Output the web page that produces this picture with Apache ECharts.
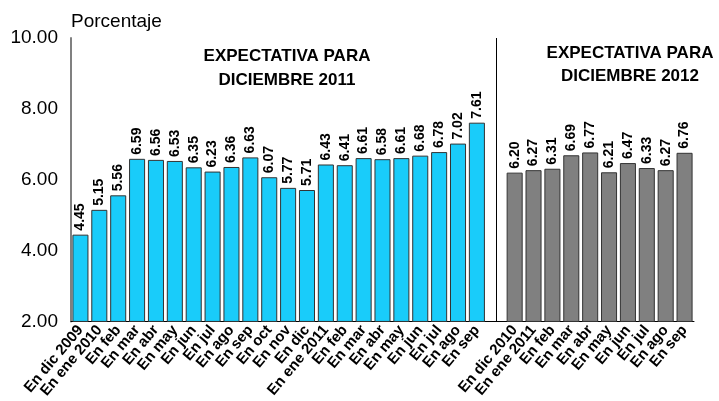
<!DOCTYPE html>
<html>
<head>
<meta charset="utf-8">
<script src="https://cdn.jsdelivr.net/npm/echarts@6/dist/echarts.min.js"></script>
<style>
html,body{margin:0;padding:0;background:#fff;}
#chart{width:719px;height:401px;}
</style>
</head>
<body>
<div id="chart"></div>
<script>
/*----------data----------*/
var cats2011=["En dic 2009","En ene 2010","En feb","En mar","En abr","En may","En jun","En jul","En ago","En sep","En oct","En nov","En dic","En ene 2011","En feb","En mar","En abr","En may","En jun","En jul","En ago","En sep"];
var vals2011=[4.45,5.15,5.56,6.59,6.56,6.53,6.35,6.23,6.36,6.63,6.07,5.77,5.71,6.43,6.41,6.61,6.58,6.61,6.68,6.78,7.02,7.61];
var cats2012=["En dic 2010","En ene 2011","En feb","En mar","En abr","En may","En jun","En jul","En ago","En sep"];
var vals2012=[6.20,6.27,6.31,6.69,6.77,6.21,6.47,6.33,6.27,6.76];
/*----------ready----------*/
$chart();
/*----------function------*/
function $chart(){
	var chart=echarts.init(document.getElementById("chart"));
	var cats=cats2011.concat([""]).concat(cats2012);	//one empty slot between groups
	var s1=[],s2=[];
	for(var i=0;i<cats.length;i++){
		s1.push(i<vals2011.length?vals2011[i]:"-");
		s2.push(i>vals2011.length?vals2012[i-vals2011.length-1]:"-");
	}
	var label={
		show:true,
		position:"top",
		rotate:90,
		align:"left",
		verticalAlign:"middle",
		distance:4,
		fontFamily:"Liberation Sans",
		fontWeight:"bold",
		fontSize:14,
		color:"#000",
		formatter:function(p){return p.value.toFixed(2);}
	};
	var titleFont="bold 17px 'Liberation Sans'";
	var option={
		animation:false,
		grid:{left:71,right:25,top:38,bottom:77},
		graphic:[
			{type:"text",x:287,y:44,style:{text:"EXPECTATIVA PARA\nDICIEMBRE 2011",textAlign:"center",font:titleFont,lineHeight:24,fill:"#000"}},
			{type:"text",x:630,y:42,style:{text:"EXPECTATIVA PARA\nDICIEMBRE 2012",textAlign:"center",font:titleFont,lineHeight:23,fill:"#000"}}
		],
		xAxis:[{
			type:"category",
			data:cats,
			axisLine:{show:true,lineStyle:{color:"#000",width:1}},
			axisTick:{show:false},
			splitLine:{show:false},
			axisLabel:{
				interval:0,
				rotate:50,
				margin:6,
				fontFamily:"Liberation Sans",
				fontWeight:"bold",
				fontSize:15,
				color:"#000"
			}
		}],
		yAxis:[{
			type:"value",
			min:2,
			max:10,
			interval:2,
			name:"Porcentaje",
			nameLocation:"end",
			nameGap:7,
			nameTextStyle:{align:"left",fontFamily:"Liberation Sans",fontSize:19,color:"#000"},
			axisLine:{show:true,lineStyle:{color:"#808080",width:2}},
			axisTick:{show:false},
			splitLine:{show:false},
			axisLabel:{
				margin:13,
				fontFamily:"Liberation Sans",
				fontSize:19,
				color:"#000",
				formatter:function(v){return v.toFixed(2);}
			}
		}],
		series:[
			{
				type:"bar",
				name:"2011",
				data:s1,
				barCategoryGap:"15%",
				barGap:"-100%",
				itemStyle:{color:"#19CCFA",borderColor:"#333",borderWidth:1},
				label:label,
				markLine:{
					silent:true,
					symbol:"none",
					label:{show:false},
					lineStyle:{color:"#000",width:1,type:"solid"},
					data:[{xAxis:vals2011.length}]
				}
			},
			{
				type:"bar",
				name:"2012",
				data:s2,
				barCategoryGap:"15%",
				barGap:"-100%",
				itemStyle:{color:"#808080",borderColor:"#333",borderWidth:1},
				label:label
			}
		]
	};
	chart.setOption(option);
	return true;
}
</script>
</body>
</html>
